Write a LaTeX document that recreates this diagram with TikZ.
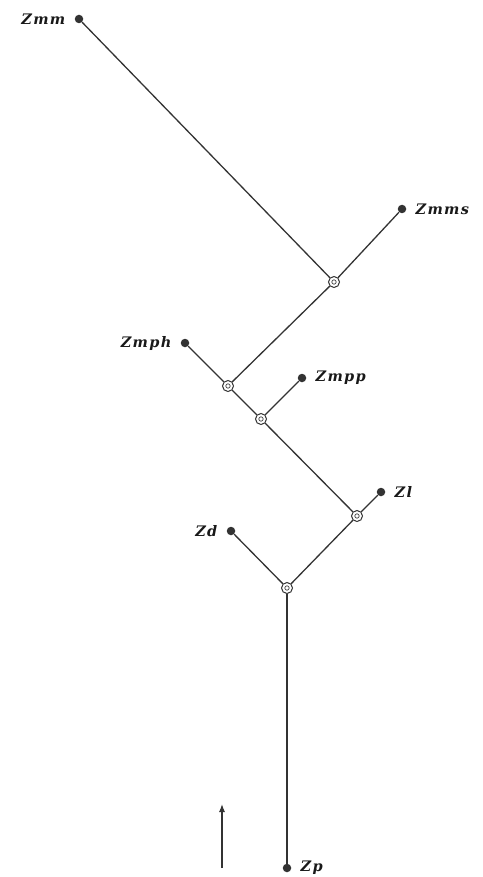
\documentclass[tikz,border=0pt]{standalone}
\usepackage{fontspec}
\usepackage{tikz}
\usetikzlibrary{arrows.meta,positioning}
\newfontfamily\lblfont[LetterSpace=9]{DejaVu Serif}
\tikzset{
  leaf/.style={circle, fill=black!80, inner sep=0pt, minimum size=8.5pt},
  junction/.style={circle, draw=black!80, fill=white, line width=1pt, inner sep=0pt,
                   minimum size=11pt,
                   path picture={\draw[black!75, line width=0.7pt]
                     (path picture bounding box.center) circle (2.2pt);}},
  lbl/.style={font=\lblfont\fontsize{14.5}{16}\selectfont\bfseries\itshape, text=black!90,
              inner sep=1pt, label distance=8pt},
  branch/.style={draw=black!80, line width=1.3pt},
  dirarrow/.style={-{Latex[length=8pt,width=6pt]}, draw=black!80, line width=1.1pt}
}
\begin{document}
\begin{tikzpicture}[x=1pt, y=-1pt]
    \useasboundingbox (0,0) rectangle (482,877);

    % junctions
    \node[junction] (A) at (334,282) {};
    \node[junction] (B) at (228,386) {};
    \node[junction] (C) at (261,419) {};
    \node[junction] (D) at (357,516) {};
    \node[junction] (E) at (287,588) {};

    % leaves
    \node[leaf, label={[lbl]left:Zmm}]   (Zmm)  at (79,19)   {};
    \node[leaf, label={[lbl]right:Zmms}] (Zmms) at (402,209) {};
    \node[leaf, label={[lbl]left:Zmph}]  (Zmph) at (185,343) {};
    \node[leaf, label={[lbl]right:Zmpp}] (Zmpp) at (302,378) {};
    \node[leaf, label={[lbl]right:Zl}]   (Zl)   at (381,492) {};
    \node[leaf, label={[lbl]left:Zd}]    (Zd)   at (231,531) {};
    \node[leaf, label={[lbl]right:Zp}]   (Zp)   at (287,868) {};

    % branches
    \draw[branch] (Zmm) -- (A);
    \draw[branch] (Zmms) -- (A);
    \draw[branch] (A) -- (B);
    \draw[branch] (Zmph) -- (B);
    \draw[branch] (B) -- (C);
    \draw[branch] (Zmpp) -- (C);
    \draw[branch] (C) -- (D);
    \draw[branch] (Zl) -- (D);
    \draw[branch] (D) -- (E);
    \draw[branch] (Zd) -- (E);
    \draw[branch] (E) -- (Zp);

    % direction
    \coordinate (tail) at (222,868);
    \coordinate (head) at (222,804);
    \draw[dirarrow] (tail) -- (head);
\end{tikzpicture}
\end{document}
